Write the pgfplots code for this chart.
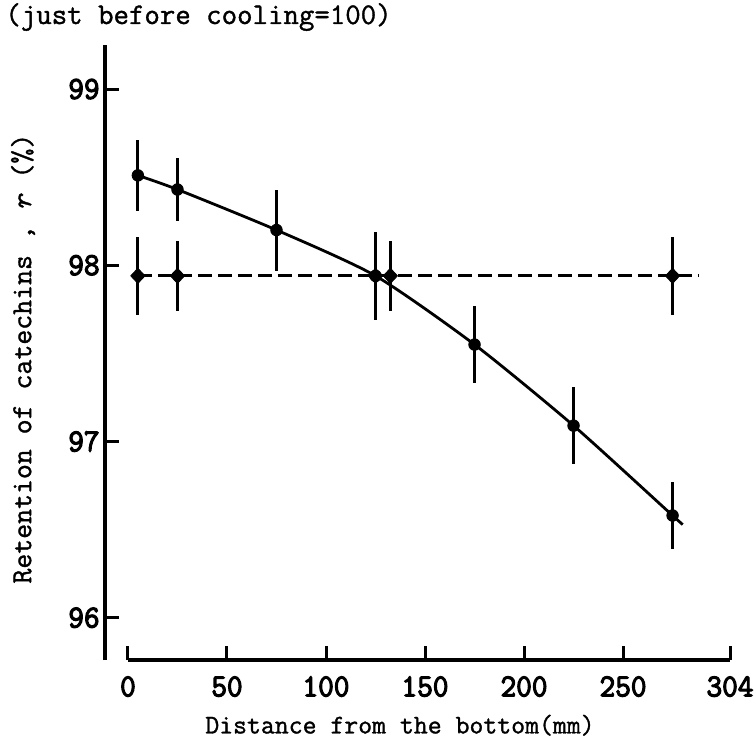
\documentclass[border=0pt]{standalone}
\usepackage{fontspec}
\setmainfont{Latin Modern Mono}[FakeBold=1.2]
\newfontfamily\tickfont{Latin Modern Mono}[FakeStretch=0.95, FakeBold=3.5]
\usepackage{pgfplots}
\pgfplotsset{compat=1.18}

\begin{document}
\begin{tikzpicture}
\begin{axis}[
    scale only axis,
    width=312.5pt, height=307.5pt,
    xmin=-11.6, xmax=304,
    ymin=95.76, ymax=99.25,
    axis x line*=bottom,
    axis y line*=left,
    x axis line style={draw=none},
    y axis line style={line width=1.8pt},
    tick align=inside,
    major tick length=7pt,
    every tick/.style={black, line width=1.5pt},
    xtick={0,50,100,150,200,250,304},
    xticklabels={0,50,100,150,200,250,304},
    ytick={96,97,98,99},
    /pgf/number format/assume math mode=true,
    ticklabel style={font=\tickfont\fontsize{16}{18}\selectfont},
    xticklabel style={inner sep=0pt, yshift=-8pt},
    yticklabel style={inner sep=0pt, xshift=-2.5pt},
    xlabel={Distance from the bottom(mm)},
    ylabel={Retention of catechins , \textit{r} (\%)},
    xlabel style={font=\fontsize{13.5}{15}\selectfont, at={(axis description cs:0.472,-0.106)}, anchor=center},
    ylabel style={font=\fontsize{14.5}{16}\selectfont, at={(axis description cs:-0.131,0.49)}, anchor=center, rotate=0},
    clip=false,
]
% smooth curve (solid)
\addplot[black, line width=1.4pt, smooth, tension=0.4] coordinates {
  (5,98.51) (25,98.43) (75,98.20) (125,97.94) (175,97.55) (225,97.09) (275,96.58) (280,96.53)
};
% circles with error bars
\addplot[only marks, mark=*, mark size=2.9pt, black,
  error bars/.cd, y dir=both, y explicit, error mark=none,
  error bar style={line width=1.4pt}] coordinates {
  (5,98.51)   +- (0,0.20)
  (25,98.43)  +- (0,0.18)
  (75,98.20)  +- (0,0.23)
  (125,97.94) +- (0,0.25)
  (175,97.55) +- (0,0.22)
  (225,97.09) +- (0,0.22)
  (275,96.58) +- (0,0.19)
};
% dashed line
\addplot[black, line width=1.4pt, dash pattern=on 7pt off 3pt] coordinates {
  (5,97.94) (288,97.94)
};
% diamonds with error bars
\addplot[only marks, mark=diamond*, mark size=3.8pt, mark options={xscale=1.25}, black,
  error bars/.cd, y dir=both, y explicit, error mark=none,
  error bar style={line width=1.4pt}] coordinates {
  (5,97.94)     +- (0,0.22)
  (25,97.94)    +- (0,0.20)
  (125,97.94)   +- (0,0.22)
  (132.5,97.94) +- (0,0.20)
  (275,97.94)   +- (0,0.22)
};
\draw[line width=1.8pt] (axis cs:0,95.76) -- (axis cs:304,95.76);
\node[anchor=west, inner sep=0pt, font=\fontsize{15}{17}\selectfont]
  at (axis description cs:-0.16,1.0455) {(just before cooling=100)};
\coordinate (bl) at (rel axis cs:-0.168,-0.1398);
\coordinate (tr) at (rel axis cs:1.0384,1.0732);
\end{axis}
\pgfresetboundingbox
\useasboundingbox (bl) rectangle (tr);
\end{tikzpicture}
\end{document}
